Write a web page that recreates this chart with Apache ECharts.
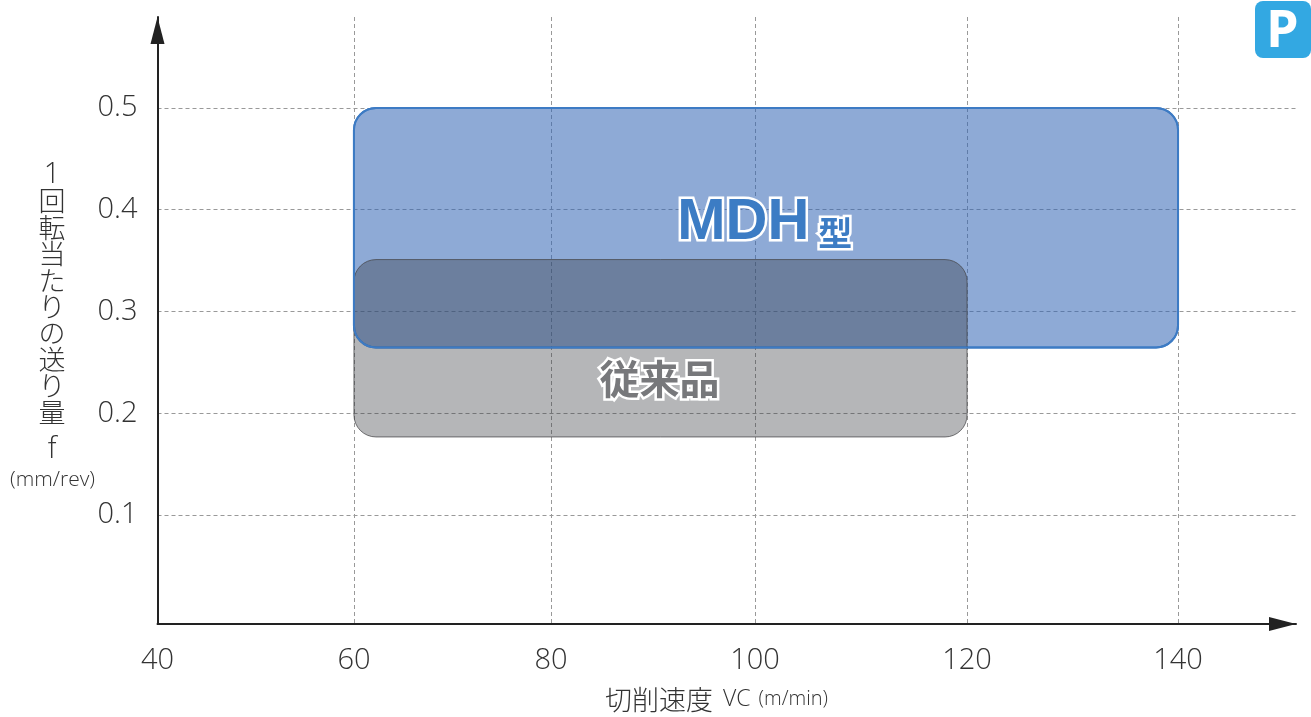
<!DOCTYPE html>
<html>
<head>
<meta charset="utf-8">
<title>切削条件範囲</title>
<style>
  html, body { margin: 0; padding: 0; background: #fff; }
  #chart { width: 1311px; height: 717px; }
</style>
<script src="https://cdn.jsdelivr.net/npm/echarts@6/dist/echarts.min.js"></script>
</head>
<body>
<div id="chart"></div>
<script>
// tick values, the picture spaces them unevenly so xTickPos holds where each one sits
const xTicks = [40, 60, 80, 100, 120, 140]
const xTickPos = [40, 59.25, 78.56, 98.55, 119.33, 140]
const yTicks = [0.1, 0.2, 0.3, 0.4, 0.5]

// regions: MDH型, 従来品
const regionXStart = [60, 60]
const regionXEnd = [140, 120]
const regionYLow = [0.2646, 0.1767]
const regionYHigh = [0.5, 0.351]

// label anchors are in axis position units, not tick values
const labelNames = ['MDH', '型', '従来品']
const labelX = [97.4, 106.4, 89.2]
const labelY = [0.3865, 0.3775, 0.234]

const FONT = '"Noto Sans CJK JP", "Open Sans", sans-serif'
const LATIN = '"Open Sans", "Noto Sans CJK JP", sans-serif'

// uneven x scale: tick value -> position on the axis
const warp = (v) => {
  for (let i = 1; i < xTicks.length; i++) {
    if (v <= xTicks[i]) {
      const t = (v - xTicks[i - 1]) / (xTicks[i] - xTicks[i - 1])
      return xTickPos[i - 1] + t * (xTickPos[i] - xTickPos[i - 1])
    }
  }
  return xTickPos[xTickPos.length - 1]
}

const regionData = regionXStart.map((x, i) => [warp(x), warp(regionXEnd[i]), regionYLow[i], regionYHigh[i]])
const labelData = labelNames.map((name, i) => [labelX[i], labelY[i], name])

const regionFill = ['rgba(50,100,180,0.55)', 'rgba(50,52,58,0.36)']
const regionStroke = ['#3d7bc4', 'rgba(70,70,72,0.75)']
const regionWidth = [2, 1]
const labelFill = ['#3c7cc4', '#3c7cc4', '#77787b']
const labelFont = [
  'bold 58px "Liberation Sans", sans-serif',
  'bold 34px ' + FONT,
  'bold 40px ' + FONT
]

const roundedRect = (api, noFill) => {
  const i = api.value(4)
  const a = api.coord([api.value(0), api.value(3)])
  const b = api.coord([api.value(1), api.value(2)])
  return {
    type: 'rect',
    shape: { x: a[0], y: a[1], width: b[0] - a[0], height: b[1] - a[1], r: 22 },
    style: {
      fill: noFill ? 'none' : regionFill[i],
      stroke: regionStroke[i],
      lineWidth: regionWidth[i]
    }
  }
}

const chart = echarts.init(document.getElementById('chart'))

chart.setOption({
  animation: false,
  backgroundColor: '#fff',
  textStyle: { fontFamily: LATIN },
  grid: { left: 157.5, top: 17, right: 15, bottom: 93 },
  xAxis: {
    type: 'value',
    min: 40,
    max: 151.56,
    axisLine: {
      onZero: false,
      lineStyle: { color: '#222', width: 2 },
      symbol: ['none', 'triangle'],
      symbolSize: [14, 27],
      symbolOffset: [0, -13.5]
    },
    axisTick: { show: false, customValues: xTickPos },
    axisLabel: {
      customValues: xTickPos,
      formatter: (v) => String(xTicks[xTickPos.indexOf(v)]),
      margin: 22,
      fontSize: 29,
      fontWeight: 300,
      color: '#333',
      showMinLabel: true,
      showMaxLabel: true
    },
    splitLine: { show: true, lineStyle: { color: '#999', type: [4, 3], width: 1 } }
  },
  yAxis: {
    type: 'value',
    min: -0.00713,
    max: 0.5894,
    axisLine: {
      onZero: false,
      lineStyle: { color: '#222', width: 2 },
      symbol: ['none', 'triangle'],
      symbolSize: [14, 27],
      symbolOffset: [0, -13.5]
    },
    axisTick: { show: false, customValues: yTicks },
    axisLabel: {
      customValues: yTicks,
      formatter: (v) => v.toFixed(1),
      margin: 20,
      fontSize: 29,
      fontWeight: 300,
      color: '#333'
    },
    splitLine: { show: true, lineStyle: { color: '#999', type: [4, 3], width: 1 } }
  },
  series: [
    {
      type: 'custom',
      clip: false,
      encode: { x: [0, 1], y: [2, 3] },
      data: regionData.map((d, i) => [...d, i]),
      renderItem: (params, api) => roundedRect(api, false)
    },
    {
      // blue outline stays on top of the grey box
      type: 'custom',
      clip: false,
      z: 3,
      encode: { x: [0, 1], y: [2, 3] },
      data: [[...regionData[0], 0]],
      renderItem: (params, api) => roundedRect(api, true)
    },
    {
      type: 'custom',
      clip: false,
      z: 4,
      data: labelData,
      renderItem: (params, api) => {
        const i = params.dataIndex
        const p = api.coord([labelData[i][0], labelData[i][1]])
        return {
          type: 'text',
          style: {
            x: p[0],
            y: p[1],
            text: labelData[i][2],
            font: labelFont[i],
            fill: labelFill[i],
            stroke: '#fff',
            lineWidth: 5,
            align: 'center',
            verticalAlign: 'middle'
          }
        }
      }
    }
  ],
  graphic: [
    {
      type: 'rect',
      left: 1255,
      top: 1,
      shape: { width: 56, height: 57, r: 8 },
      style: { fill: '#33a8e2' }
    },
    {
      type: 'text',
      left: 1266,
      top: 6,
      style: { text: 'P', font: 'bold 52px ' + LATIN, fill: '#fff' }
    },
    {
      type: 'text',
      left: 38,
      top: 160,
      style: {
        text: '{a|1}\n{b|回}\n{b|転}\n{b|当}\n{b|た}\n{b|り}\n{b|の}\n{b|送}\n{b|り}\n{b|量}\n{c|f}',
        align: 'center',
        fill: '#333',
        rich: {
          a: { font: '300 29px ' + LATIN, lineHeight: 27, width: 28, align: 'center', fill: '#333' },
          b: { font: '300 27px ' + FONT, lineHeight: 26.4, width: 28, align: 'center', fill: '#333' },
          c: { font: '300 29px ' + LATIN, lineHeight: 49, width: 28, align: 'center', fill: '#333' }
        }
      }
    },
    {
      type: 'text',
      left: 10,
      top: 470,
      style: { text: '(mm/rev)', font: '300 21px ' + LATIN, fill: '#333' }
    },
    {
      type: 'text',
      left: 605,
      top: 686,
      style: {
        text: '{b|切削速度}{c|VC}{d|(m/min)}',
        rich: {
          b: { font: '300 27px ' + FONT, fill: '#333' },
          c: { font: '300 23px ' + LATIN, fill: '#333', padding: [0, 8, 0, 10] },
          d: { font: '300 20px ' + LATIN, fill: '#333' }
        }
      }
    }
  ]
})

window.addEventListener('resize', () => chart.resize())
</script>
</body>
</html>
